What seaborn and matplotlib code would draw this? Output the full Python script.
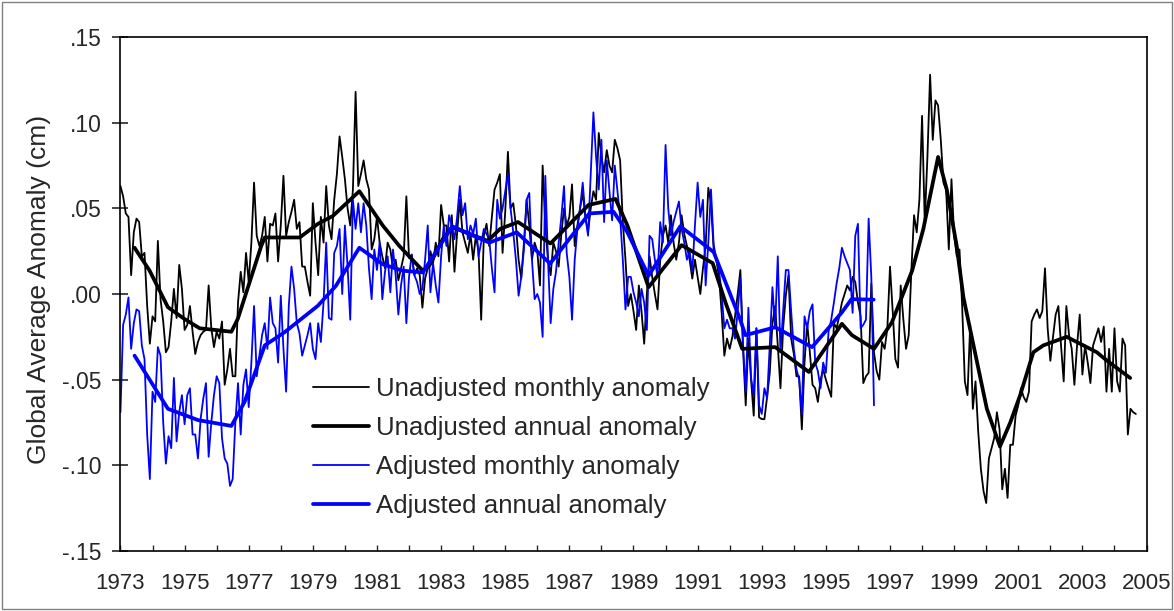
import numpy as np
import pandas as pd
import matplotlib
matplotlib.use("Agg")
import matplotlib.pyplot as plt
import seaborn as sns
from matplotlib.patches import Rectangle

sns.set_style("ticks")
plt.rcParams['font.family'] = ['Liberation Sans', 'DejaVu Sans']

# monthly anomalies, starting Jan 1973 (one row per year)
unadj_monthly = [
    .063, .057, .047, .045, .011, .036, .044, .042, .022, .024, -.007, -.029,
    -.013, -.016, .031, -.003, -.016, -.034, -.031, -.016, .003, -.014, .017, .003,
    -.021, -.018, -.007, -.022, -.035, -.028, -.024, -.022, -.021, .005, -.020, -.031,
    -.022, -.026, -.016, -.053, -.044, -.032, -.048, -.048, -.005, .013, .001, .024,
    .007, .030, .065, .034, .028, .034, .045, .019, .041, .040, .047, .019,
    .040, .069, .034, .042, .048, .055, .038, .042, .016, .016, .007, -.001,
    .053, .030, .011, .045, .030, .063, .040, .032, .055, .070, .092, .080,
    .067, .050, .040, .061, .118, .063, .070, .078, .067, .061, .026, .032,
    .045, .030, .022, .015, .030, .026, .015, .020, .008, .015, .022, .057,
    .021, .023, .011, .015, .011, -.008, .009, .015, .025, .018, .030, .022,
    .052, .040, .040, .019, .046, .013, .036, .055, .036, .030, .024, .035,
    .020, .034, .025, -.015, .034, .041, .028, .045, .061, .065, .070, .024,
    .048, .083, .050, .053, .040, .020, .009, .030, .055, .040, .020, .030,
    .025, .005, .075, .040, .020, .011, .030, .025, .016, .035, .050, .040,
    .045, .064, .028, .040, .050, .059, .045, .036, .050, .060, .055, .094,
    .080, .071, .084, .075, .071, .090, .085, .078, .042, .020, -.007, .000,
    -.010, -.021, .005, -.010, -.029, .000, .022, .010, .000, -.009, .020, .034,
    .040, .030, .046, .030, .020, .030, .046, .035, .028, .020, .009, .020,
    .010, .000, .015, .028, .062, .053, .026, .020, .010, -.011, -.036, -.026,
    -.032, -.025, -.013, .000, .014, -.032, -.065, -.026, -.050, -.071, -.020, -.072,
    -.073, -.073, -.060, -.046, -.017, -.007, -.030, -.055, -.020, -.001, .011, -.026,
    -.035, -.048, -.048, -.079, -.040, -.017, -.034, -.053, -.055, -.063, -.050, -.044,
    -.050, -.055, -.060, -.017, -.020, -.013, -.005, .000, .005, .002, .010, .007,
    -.005, -.013, -.052, -.048, -.046, .006, -.034, -.045, -.050, -.028, -.032, -.020,
    .016, -.010, -.038, -.043, .005, -.015, -.032, -.024, .014, .046, .036, .055,
    .104, .042, .080, .128, .090, .113, .110, .090, .065, .061, .026, .067,
    .034, .022, .026, -.007, -.051, -.059, -.018, -.067, -.051, -.080, -.102, -.115,
    -.122, -.096, -.090, -.084, -.069, -.079, -.114, -.102, -.119, -.088, -.088, -.071,
    -.065, -.055, -.060, -.063, -.057, -.016, -.012, -.009, -.014, -.010, .015, -.020,
    -.039, -.025, -.012, -.007, -.030, -.051, -.007, -.024, -.032, -.053, -.030, -.012,
    -.047, -.030, -.040, -.052, -.030, -.025, -.020, -.028, -.019, -.057, -.032, -.057,
    -.020, -.051, -.057, -.026, -.030, -.082, -.067, -.069, -.070,
]

adj_monthly = [
    -.069, -.018, -.012, -.002, -.032, -.017, -.009, -.010, -.030, -.038, -.082, -.108,
    -.057, -.063, -.031, -.036, -.075, -.099, -.083, -.090, -.049, -.086, -.069, -.059,
    -.076, -.059, -.055, -.082, -.082, -.096, -.073, -.061, -.052, -.095, -.075, -.059,
    -.048, -.052, -.084, -.096, -.099, -.112, -.108, -.075, -.052, -.082, -.053, -.044,
    -.066, -.040, -.007, -.048, -.036, -.024, -.017, -.032, -.002, -.017, -.020, -.040,
    -.001, -.032, -.057, -.007, .016, .003, -.017, -.023, -.036, -.030, -.024, -.017,
    -.032, -.038, -.017, -.028, -.005, .030, -.014, -.015, .024, .028, .038, .000,
    .040, .016, -.015, .055, .038, .053, .036, .053, .040, .015, -.003, .026,
    .014, .030, -.003, .013, .022, .001, .026, .011, -.012, .005, .016, -.017,
    .010, .023, .011, .007, .000, .003, .020, .040, .001, .018, .005, -.005,
    .022, .040, .028, .046, .040, .032, .045, .063, .046, .053, .032, .040,
    .035, .044, .022, .030, .038, .035, .032, .015, .001, .055, .044, .050,
    .060, .070, .050, .036, .020, -.001, .010, .026, .055, .059, .020, -.003,
    .000, -.005, -.025, .069, .020, -.017, .003, .013, .030, .045, .063, .024,
    .010, -.015, .020, .038, .050, .065, .045, .034, .070, .106, .080, .061,
    .090, .042, .078, .060, .043, .075, .060, .045, .020, -.009, .010, .010,
    .001, -.005, -.013, .003, -.005, -.021, .034, .032, .020, .010, .042, .030,
    .087, .050, .034, .042, .048, .054, .038, .030, .020, .025, .013, .040,
    .065, .045, .055, .005, .030, .061, .029, .020, .014, .000, -.020, -.015,
    -.020, -.020, -.026, -.010, .009, -.030, -.057, -.008, -.049, -.059, -.020, -.065,
    -.070, -.055, -.061, -.030, .004, -.020, .022, -.034, -.010, .014, .014, -.010,
    -.032, -.044, -.050, -.070, -.013, -.020, -.010, -.006, -.040, -.045, -.055, -.040,
    -.046, -.022, -.015, -.005, .006, .015, .027, .022, .018, .014, -.011, .034,
    .041, -.020, -.018, -.015, .044, .010, -.065,
]

# smoothed annual curves (year, value)
unadj_annual_t = [1973.44, 1973.91, 1974.48, 1974.99, 1975.47, 1976.46, 1976.66, 1977.39,
                  1977.50, 1978.59, 1979.16, 1979.62, 1980.45, 1981.18, 1981.70, 1982.43,
                  1982.63, 1983.05, 1983.35, 1984.45, 1984.84, 1985.40, 1986.41, 1987.60,
                  1988.44, 1988.81, 1989.47, 1989.95, 1990.50, 1991.47, 1991.87, 1992.39,
                  1993.42, 1994.47, 1995.50, 1995.81, 1996.50, 1997.06, 1997.69, 1998.04,
                  1998.50, 1998.77, 1999.08, 1999.29, 2000.02, 2000.43, 2000.75, 2001.06,
                  2001.47, 2001.78, 2002.51, 2003.45, 2003.76, 2004.49]
unadj_annual_v = [.027, .0136, -.0077, -.0145, -.020, -.022, -.0145, .028,
                  .033, .033, .041, .0455, .060, .040, .028, .0136,
                  .0165, .032, .039, .031, .038, .042, .0295, .052,
                  .0555, .040, .004, .0155, .0285, .018, -.005, -.032,
                  -.031, -.0455, -.0174, -.024, -.032, -.0165, .0136, .038,
                  .080, .061, .028, -.002, -.067, -.089, -.075, -.059,
                  -.034, -.030, -.025, -.034, -.0388, -.049]

adj_annual_t = [1973.44, 1974.48, 1975.42, 1976.46, 1976.87, 1977.50, 1978.12, 1979.16,
                1979.72, 1980.45, 1981.18, 1981.80, 1982.43, 1983.35, 1984.50, 1985.36,
                1986.40, 1987.62, 1988.38, 1988.81, 1989.47, 1990.46, 1991.50, 1992.32,
                1992.49, 1993.42, 1994.57, 1995.50, 1995.80, 1996.49]
adj_annual_v = [-.036, -.067, -.0736, -.077, -.063, -.030, -.0223, -.0068,
                .0048, .027, .0174, .0136, .0126, .0395, .030, .036,
                .0178, .047, .048, .036, .0107, .0395, .0245, -.0145,
                -.024, -.0194, -.031, -.0107, -.003, -.0033]

labels = ["Unadjusted monthly anomaly", "Unadjusted annual anomaly",
          "Adjusted monthly anomaly", "Adjusted annual anomaly"]
y_ticks = [-.15, -.10, -.05, .00, .05, .10, .15]
y_ticklabels = ["-.15", "-.10", "-.05", ".00", ".05", ".10", ".15"]
years = list(range(1973, 2006))

t_unadj = 1973 + np.arange(len(unadj_monthly)) / 12
t_adj = 1973 + np.arange(len(adj_monthly)) / 12

fig = plt.figure(figsize=(11.74, 6.11), dpi=100)
ax = fig.add_axes([0.1026, 0.0982, 0.8740, 0.8412])

blue = "#0000FF"
sns.lineplot(x=t_unadj, y=unadj_monthly, ax=ax, color="black", linewidth=1.3, estimator=None)
sns.lineplot(x=t_adj, y=adj_monthly, ax=ax, color=blue, linewidth=1.3, estimator=None)
sns.lineplot(x=unadj_annual_t, y=unadj_annual_v, ax=ax, color="black", linewidth=2.7,
             estimator=None)
sns.lineplot(x=adj_annual_t, y=adj_annual_v, ax=ax, color=blue, linewidth=2.7, estimator=None)
for ln in ax.lines[:4]:
    ln.set_solid_joinstyle("round")

l_um, l_am, l_ua, l_aa = ax.lines[:4]
ax.legend([l_um, l_ua, l_am, l_aa], labels, loc="upper left",
          bbox_to_anchor=(313 / 1174, 1 - 377 / 611), bbox_transform=fig.transFigure,
          frameon=False, fontsize=18.6, handlelength=2.15, handletextpad=0.3,
          labelspacing=0.58, borderpad=0, borderaxespad=0)

ax.set_xlim(1973, 2005)
ax.set_ylim(-0.15, 0.15)
ax.set_xticks(years)
ax.set_xticklabels([str(y) if y % 2 == 1 else "" for y in years])
ax.set_yticks(y_ticks)
ax.set_yticklabels(y_ticklabels)
ax.tick_params(axis="y", direction="inout", length=11.5, width=1.2, labelsize=16.5, pad=8)
ax.tick_params(axis="x", direction="in", length=4.3, width=1.0, labelsize=16, pad=16)
for s in ax.spines.values():
    s.set_visible(True)
    s.set_linewidth(1.2)
    s.set_color("black")

ax.set_ylabel("Global Average Anomaly (cm)", fontsize=19)
ax.yaxis.set_label_coords(-0.068, 0.508)

fig.patches.append(Rectangle((0.0015, 0.0025), 0.997, 0.995, transform=fig.transFigure,
                             fill=False, edgecolor="#808080", linewidth=1.0))

fig.savefig("out.png", dpi=100)
